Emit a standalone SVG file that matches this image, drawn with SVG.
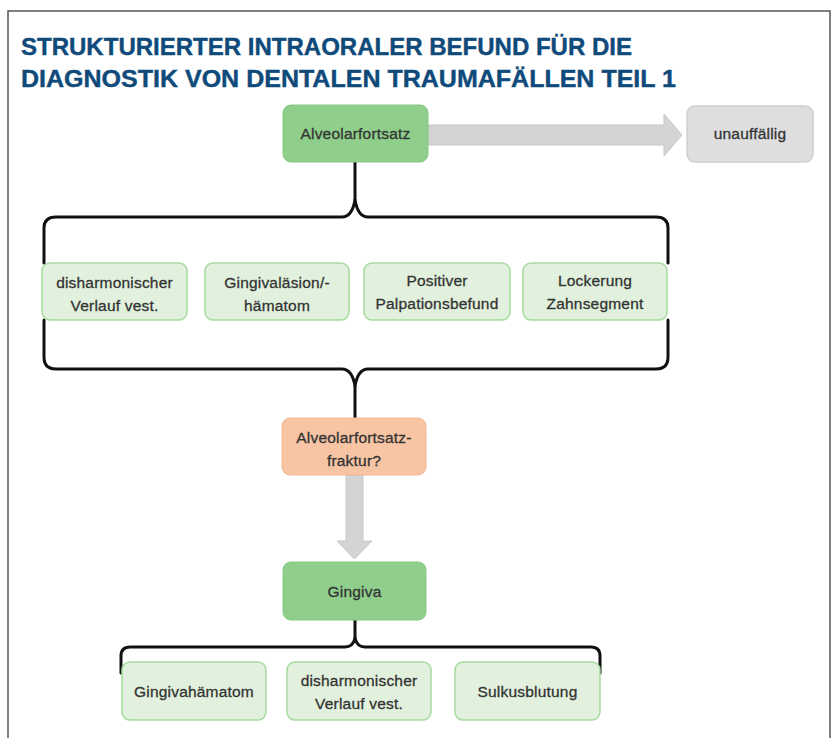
<svg xmlns="http://www.w3.org/2000/svg" width="834" height="738" viewBox="0 0 834 738">
<defs>
<style>
.title{font-family:"Liberation Sans",Arial,sans-serif;font-weight:bold;font-size:24px;fill:#0f4a7a;stroke:#0f4a7a;stroke-width:0.4}
.t{font-family:"Liberation Sans",Arial,sans-serif;font-size:15.5px;fill:#333;stroke:#333;stroke-width:0.3;text-anchor:middle;letter-spacing:0.2px}
.dark{fill:#8fcf8b;stroke:#86c882;stroke-width:1}
.light{fill:#e1f1dd;stroke:#a6da9f;stroke-width:1.5}
.peach{fill:#f7c4a4;stroke:#f0b994;stroke-width:1}
.gray{fill:#dedede;stroke:#cfcfcf;stroke-width:1.5}
.brace{fill:none;stroke:#111;stroke-width:3;stroke-linejoin:round;stroke-linecap:round}
.arrow{fill:#d4d4d4;stroke:#c8c8c8;stroke-width:1}
</style>
</defs>
<rect x="0" y="0" width="834" height="738" fill="#ffffff"/>
<path d="M8 738 L8 11 L830 11 L830 738" fill="none" stroke="#555" stroke-width="1.5"/>
<text class="title" x="21" y="55" textLength="611" lengthAdjust="spacingAndGlyphs">STRUKTURIERTER INTRAORALER BEFUND FÜR DIE</text>
<text class="title" x="21" y="87" textLength="655" lengthAdjust="spacingAndGlyphs">DIAGNOSTIK VON DENTALEN TRAUMAFÄLLEN TEIL 1</text>

<g id="connectors">
<path class="arrow" d="M428 125 L664 125 L664 114 L682 135 L664 156 L664 145 L428 145 Z"/>
<path class="arrow" d="M346 475 L363 475 L363 541 L372 541 L354.5 559 L337 541 L346 541 Z"/>
<path class="brace" d="M355 162 L355 200"/>
<path class="brace" d="M44 263 L44 228 Q44 217 56 217 L342 217 Q352 217 355 200 Q358 217 368 217 L656 217 Q668 217 668 228 L668 263"/>
<path class="brace" d="M44 320 L44 357 Q44 369 56 369 L342 369 Q352 369 355 386 Q358 369 368 369 L656 369 Q668 369 668 357 L668 320"/>
<path class="brace" d="M355 386 L355 418"/>
<path class="brace" d="M355 620 L355 638"/>
<path class="brace" d="M121 673 L121 656 Q121 647 130 647 L345 647 Q353 647 355 638 Q357 647 365 647 L591 647 Q600 647 600 656 L600 673"/>
</g>

<g id="alveolarfortsatz"><rect class="dark" x="283" y="105" width="145" height="57" rx="8"/><text class="t" x="355.5" y="139">Alveolarfortsatz</text></g>
<g id="unauffaellig"><rect class="gray" x="687" y="106" width="126" height="56" rx="8"/><text class="t" x="750" y="139">unauffällig</text></g>

<g id="disharmonisch1"><rect class="light" x="42" y="263" width="145" height="57" rx="8"/><text class="t" x="114.5" y="288">disharmonischer</text><text class="t" x="114.5" y="311">Verlauf vest.</text></g>
<g id="gingivalaesion"><rect class="light" x="205" y="263" width="144" height="57" rx="8"/><text class="t" x="277" y="288">Gingivaläsion/-</text><text class="t" x="277" y="311">hämatom</text></g>
<g id="palpation"><rect class="light" x="364" y="263" width="146" height="57" rx="8"/><text class="t" x="437" y="286">Positiver</text><text class="t" x="437" y="309">Palpationsbefund</text></g>
<g id="lockerung"><rect class="light" x="523" y="263" width="144" height="57" rx="8"/><text class="t" x="595" y="286">Lockerung</text><text class="t" x="595" y="309">Zahnsegment</text></g>

<g id="fraktur"><rect class="peach" x="282" y="418" width="144" height="57" rx="8"/><text class="t" x="354" y="443">Alveolarfortsatz-</text><text class="t" x="354" y="466">fraktur?</text></g>

<g id="gingiva"><rect class="dark" x="283" y="562" width="143" height="58" rx="8"/><text class="t" x="354.5" y="597">Gingiva</text></g>

<g id="gingivahaematom"><rect class="light" x="122" y="662" width="144" height="58" rx="8"/><text class="t" x="194" y="697">Gingivahämatom</text></g>
<g id="disharmonisch2"><rect class="light" x="287" y="662" width="144" height="58" rx="8"/><text class="t" x="359" y="686">disharmonischer</text><text class="t" x="359" y="709">Verlauf vest.</text></g>
<g id="sulkusblutung"><rect class="light" x="455" y="662" width="145" height="58" rx="8"/><text class="t" x="527.5" y="697">Sulkusblutung</text></g>
</svg>
